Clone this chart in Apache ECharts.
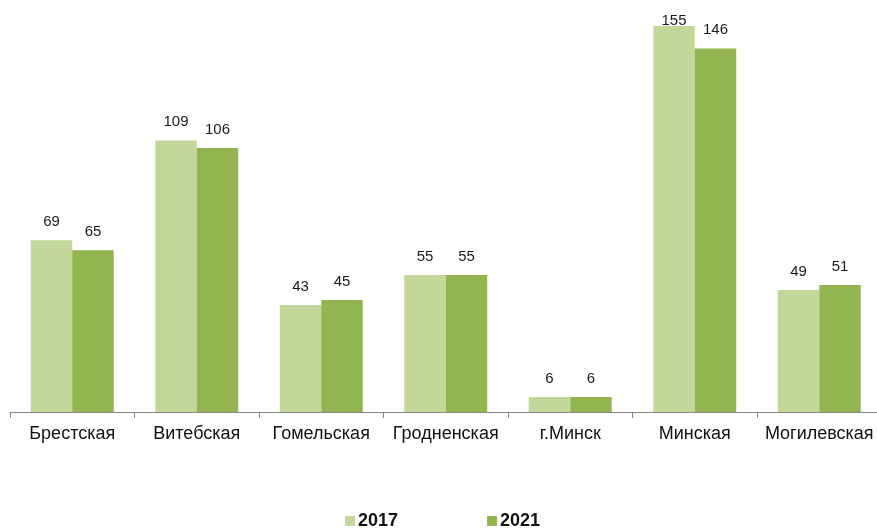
<!DOCTYPE html>
<html>
<head>
<meta charset="utf-8">
<script src="https://cdn.jsdelivr.net/npm/echarts@6/dist/echarts.min.js"></script>
<style>
html,body{margin:0;padding:0;background:#fff;overflow:hidden;width:877px;height:528px;}
#c{width:882px;height:528px;}
</style>
</head>
<body>
<div id="c"></div>
<script>
const categories = ['Брестская','Витебская','Гомельская','Гродненская','г.Минск','Минская','Могилевская'];
const seriesNames = ['2017','2021'];
const values2017 = [69,109,43,55,6,155,49];
const values2021 = [65,106,45,55,6,146,51];

const FONT = "'Liberation Sans', Arial, sans-serif";
const chart = echarts.init(document.getElementById('c'), null, {renderer:'canvas'});
const lbl = {show:true, position:'top', distance:11, color:'#1a1a1a', fontSize:15, fontFamily:FONT};
// the tallest label is pushed down to stay inside the plot, as in the reference
const data2017 = values2017.map(v => v === Math.max(...values2017) ? {value:v, label:{distance:-2}} : v);
chart.setOption({
  animation:false,
  backgroundColor:'#fff',
  grid:{left:10, width:871.5, top:13.6, bottom:116, containLabel:false},
  legend:{
    data:seriesNames, left:340, top:507, itemWidth:10, itemHeight:10, itemGap:89,
    icon:'rect',
    textStyle:{fontSize:18, fontWeight:'bold', color:'#111', fontFamily:FONT, padding:[0,0,0,-2]}
  },
  xAxis:{
    type:'category', data:categories,
    axisLine:{lineStyle:{color:'#868686', width:1}},
    axisTick:{show:true, length:6, lineStyle:{color:'#868686'}},
    axisLabel:{color:'#111', fontSize:18, fontFamily:FONT, margin:13, interval:0}
  },
  yAxis:{type:'value', min:0, max:160, show:false, splitLine:{show:false}},
  series:[
    {name:seriesNames[0], type:'bar', data:data2017, barWidth:41.5, barGap:'0%', itemStyle:{color:'#C4D79B'}, label:lbl},
    {name:seriesNames[1], type:'bar', data:values2021, barWidth:41.5, barGap:'0%', itemStyle:{color:'#92B451'}, label:lbl}
  ]
});
</script>
</body>
</html>
